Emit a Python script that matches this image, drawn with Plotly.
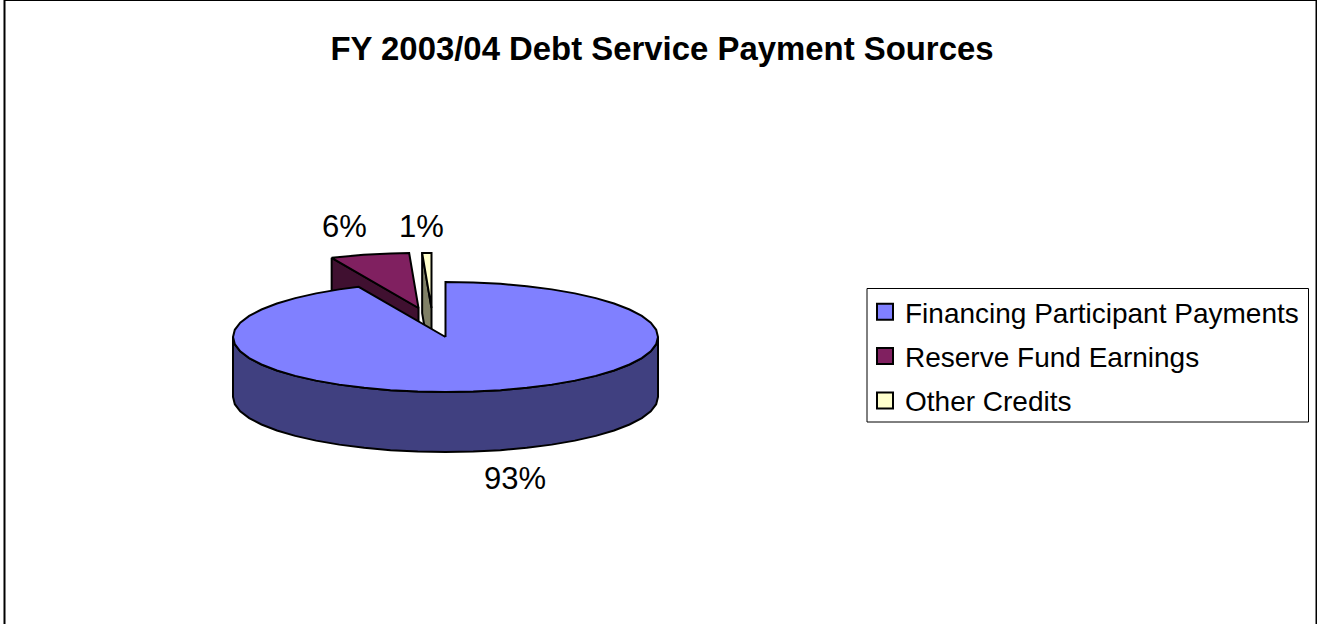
import numpy as np
import plotly.graph_objects as go

title = "FY 2003/04 Debt Service Payment Sources"
categories = ["Financing Participant Payments", "Reserve Fund Earnings", "Other Credits"]
values = [93.3, 6.0, 0.7]
top_colors = ["#8080FF", "#802060", "#FFFFCC"]
wall_colors = ["#404080", "#401030", "#808066"]

W, H = 1317, 624
CX, CY, RX, RY, DEPTH = 445.5, 337.0, 212.5, 55.0, 60.0
EXPLODE = [(0, 0), (-27, -29), (-14, -29)]
LABEL_POS = [(514.5, 478), (344, 226), (421.5, 226)]
STEP = 7.5


def pts(theta, ox, oy, drop=0.0):
    t = np.radians(theta)
    return CX + ox + RX * np.sin(t), CY + oy - RY * np.cos(t) + drop


def arc(a, b):
    inner = np.arange(np.ceil(a / STEP), np.floor(b / STEP) + 1) * STEP
    return np.unique(np.concatenate([[a], inner, [b]]))


total = sum(values)
ends = np.cumsum(values) / total * 360
starts = np.concatenate([[0], ends[:-1]])

fig = go.Figure()


def add_poly(xs, ys, color):
    fig.add_trace(go.Scatter(x=list(xs), y=list(ys), mode="lines", fill="toself", fillcolor=color,
                             line=dict(color="black", width=2), hoverinfo="skip", showlegend=False))


for i in [1, 2, 0]:
    ox, oy = EXPLODE[i]
    a, b = starts[i], ends[i]
    if i == 0:
        th = arc(90, 270)
        x1, y1 = pts(th, ox, oy)
        x2, y2 = pts(th[::-1], ox, oy, DEPTH)
        wx, wy = np.r_[x1, x2, x1[0]], np.r_[y1, y2, y1[0]]
    else:
        # the visible wall is the cut face on the slice's leading edge
        xa, ya = pts(a, ox, oy)
        ax, ay = CX + ox, CY + oy
        wx = [xa, ax, ax, xa, xa]
        wy = [ya, ay, ay + DEPTH, ya + DEPTH, ya]
    add_poly(wx, wy, wall_colors[i])
    th = arc(a, b)
    x1, y1 = pts(th, ox, oy)
    add_poly(np.r_[CX + ox, x1, CX + ox], np.r_[CY + oy, y1, CY + oy], top_colors[i])

for i, name in enumerate(categories):
    fig.add_trace(go.Scatter(x=[None], y=[None], mode="markers", name=name, legendgroup=name,
                             marker=dict(symbol="square", size=16, color=top_colors[i],
                                         line=dict(color="black", width=2))))

for v, (lx, ly) in zip(values, LABEL_POS):
    fig.add_annotation(x=lx, y=ly, text=f"{round(v / total * 100)}%", showarrow=False,
                       xanchor="center", yanchor="middle",
                       font=dict(family="Liberation Sans", size=31, color="black"))

fig.update_layout(
    width=W, height=H, margin=dict(l=0, r=0, t=0, b=0),
    paper_bgcolor="white", plot_bgcolor="white",
    xaxis=dict(range=[0, W], visible=False, fixedrange=True),
    yaxis=dict(range=[H, 0], visible=False, fixedrange=True),
    title=dict(text=f"<b>{title}</b>", x=662 / W, y=1 - 48.5 / H, xanchor="center", yanchor="middle",
               font=dict(family="Liberation Sans", size=32.9, color="black")),
    legend=dict(x=865 / W, y=1 - 287 / H, xanchor="left", yanchor="top",
                bgcolor="rgba(0,0,0,0)", borderwidth=0,
                font=dict(family="Liberation Sans", size=28, color="black"),
                tracegroupgap=5),
    shapes=[dict(type="rect", xref="x", yref="y", x0=4.5, x1=1316.5, y0=0, y1=650,
                 line=dict(color="black", width=2), fillcolor="rgba(0,0,0,0)"),
            dict(type="rect", xref="x", yref="y", x0=867, x1=1308.5, y0=288.5, y1=422,
                 line=dict(color="black", width=1), fillcolor="rgba(0,0,0,0)")],
)

fig.write_html("out.html", config={"displayModeBar": False},
               post_script="document.body.style.margin='0';")
